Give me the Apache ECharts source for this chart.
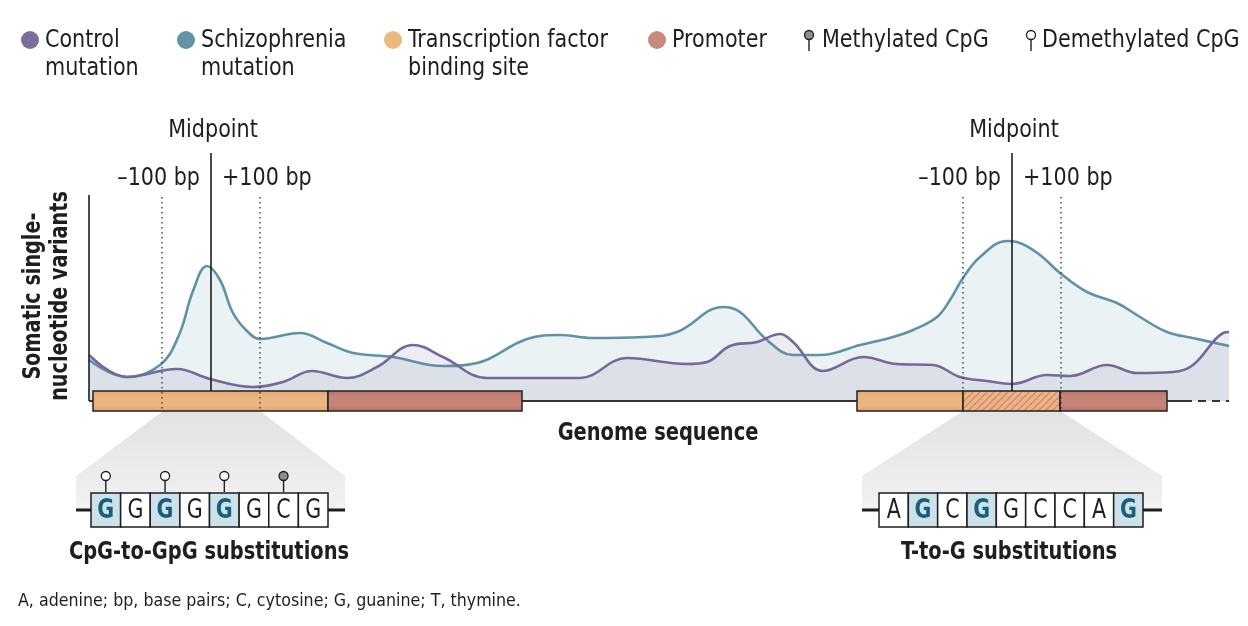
<!DOCTYPE html>
<html><head><meta charset="utf-8">
<script src="https://cdn.jsdelivr.net/npm/echarts@6/dist/echarts.min.js"></script>
<style>html,body{margin:0;padding:0;background:#fff}#c{width:1248px;height:626px}</style>
</head><body><div id="c"></div>
<script>
// ---- data (genome position units, relative variant density) ----
const schizoPos = [0,38,71,90,104,118,131,144,158,171,211,238,264,304,354,388,438,471,504,554,588,634,651,678,704,731,771,804,824,848,861,874,891,918,928,951,971,998,1028,1051,1078,1104,1140];
const schizoVal = [20.5,12,18,33,55,67.5,60.5,44,35,31,34,29,24,22,17.5,19,31,33,31.5,32,34.5,47,44.5,30.5,23,23,28,32,35.5,42,50.5,61.5,72,80,79.5,73,64,54.5,49,42,34.5,31.5,27.5];
const controlPos = [0,38,88,121,164,194,223,258,288,324,354,398,471,491,538,598,618,641,668,691,704,734,774,808,844,871,898,923,958,981,1018,1048,1084,1104,1134,1140];
const controlVal = [23,12,16,11,7,9.5,15,11.5,17,28,22,11.5,11.5,11.5,21.5,18.5,19.5,27.5,29.5,33.5,29.5,15,22,18.5,18,12,10,8.5,13,12.5,18,14,14.5,18,34,34.5];
// regions: kind 0 = TF binding site, 1 = promoter, 2 = TF site within ±100 bp
const regionStart = [4,239,768,874,971];
const regionEnd   = [239,433,874,971,1078];
const regionKind  = [0,1,0,2,1];
const midpoints = [122, 923];
const flank = 49;
const axisTop = 103, axisEnd = 1140, solidEnd = 1095;
const midLabel = 'Midpoint', minusLabel = '\u2013100 bp', plusLabel = '+100 bp';
const seqLeft = ['G','G','G','G','G','G','C','G'];
const hiLeft = [0,2,4];
const pinsLeft = [[0,0],[2,0],[4,0],[6,1]]; // [index, methylated]
const seqRight = ['A','G','C','G','G','C','C','A','G'];
const hiRight = [1,3,8];

const F = "'Liberation Sans Narrow','DejaVu Sans Condensed',sans-serif";
const C = {control:'#75699b', schizo:'#5e93a7', ink:'#1e1e1e'};
const SX = 0.92, SXB = 0.9;

function vgrad(edge, mid){
  return new echarts.graphic.LinearGradient(0,0,0,1,[{offset:0,color:edge},{offset:0.3,color:mid},{offset:0.7,color:mid},{offset:1,color:edge}]);
}
const tfFill = vgrad('#e2a46c', '#ebb580');
const prFill = vgrad('#b97064', '#c68478');

// hatch pattern
const pc = document.createElement('canvas'); pc.width = 7; pc.height = 7;
const g = pc.getContext('2d');
g.fillStyle = '#ebb581'; g.fillRect(0,0,7,7);
g.strokeStyle = '#cd8878'; g.lineWidth = 1.4;
g.beginPath(); g.moveTo(-1,8); g.lineTo(8,-1); g.moveTo(-4.5,4.5); g.lineTo(4.5,-4.5); g.moveTo(2.5,11.5); g.lineTo(11.5,2.5); g.stroke();
const hatch = {image: pc, repeat: 'repeat'};

const chart = echarts.init(document.getElementById('c'), null, {renderer:'canvas'});

const graphics = [];
function T(x, y, text, size, bold, align, extra){
  return Object.assign({type:'text', x:x, y:y, scaleX: bold?SXB:SX,
    style:{text:text, font:(bold?'bold ':'')+size+'px '+F, fill:C.ink, textAlign:align||'left', textVerticalAlign:'middle', lineHeight:28}}, extra||{});
}
// legend
const legendItems = [
  {x:30, c:'#7b6fa0', t:'Control\nmutation'},
  {x:186, c:'#6492a6', t:'Schizophrenia\nmutation'},
  {x:393, c:'#ebb982', t:'Transcription factor\nbinding site'},
  {x:657, c:'#c98a7e', t:'Promoter'}
];
legendItems.forEach(it=>{
  graphics.push({type:'circle', shape:{cx:it.x, cy:40, r:9}, style:{fill:it.c}});
  const e = T(it.x+15, 26, it.t, 25, false, 'left'); e.style.textVerticalAlign = 'top';
  graphics.push(e);
});
function pin(x, cy, methylated){
  return [
    {type:'line', shape:{x1:x, y1:cy+4.5, x2:x, y2:cy+16}, style:{stroke:C.ink, lineWidth:1.4}},
    {type:'circle', shape:{cx:x, cy:cy, r:4.5}, style:{fill:methylated?'#8d8d8d':'#fff', stroke:C.ink, lineWidth:1.3}}
  ];
}
graphics.push(...pin(809, 35, true));
let e1 = T(822, 26, 'Methylated CpG', 25, false, 'left'); e1.style.textVerticalAlign='top'; graphics.push(e1);
graphics.push(...pin(1031, 35, false));
let e2 = T(1042, 26, 'Demethylated CpG', 25, false, 'left'); e2.style.textVerticalAlign='top'; graphics.push(e2);
// axis titles
graphics.push({type:'text', x:47, y:296, rotation:Math.PI/2, scaleX:0.89, style:{text:'Somatic single-\nnucleotide variants', font:'bold 24px '+F, fill:C.ink, lineHeight:27, textAlign:'center', textVerticalAlign:'middle'}});
graphics.push(T(658, 434, 'Genome sequence', 24, true, 'center'));
// zoom trapezoids
const grad = new echarts.graphic.LinearGradient(0,0,0,1,[{offset:0,color:'#e2e2e2'},{offset:1,color:'#f2f2f2'}]);
graphics.push({type:'polygon', shape:{points:[[163,411],[260,411],[345,476],[345,511],[76,511],[76,476]]}, style:{fill:grad}});
graphics.push({type:'polygon', shape:{points:[[963,411],[1060,411],[1162,476],[1162,511],[862,511],[862,476]]}, style:{fill:grad}});
// sequences
function seq(x0, x1, letters, hi, lineL, lineR){
  const w = (x1-x0)/letters.length;
  graphics.push({type:'line', shape:{x1:lineL, y1:510, x2:x0, y2:510}, style:{stroke:C.ink, lineWidth:3}});
  graphics.push({type:'line', shape:{x1:x1, y1:510, x2:lineR, y2:510}, style:{stroke:C.ink, lineWidth:3}});
  letters.forEach((L,i)=>{
    const h = hi.indexOf(i)>=0;
    graphics.push({type:'rect', shape:{x:x0+i*w, y:493, width:w, height:34}, style:{fill:h?'#cde1e8':'#fff', stroke:C.ink, lineWidth:1.5}});
    const t = T(x0+i*w+w/2, 511, L, 26, h, 'center');
    t.scaleX = 0.88;
    if (h) t.style.fill = '#175f7c';
    graphics.push(t);
  });
  return w;
}
const wl = seq(91, 328, seqLeft, hiLeft, 76, 345);
pinsLeft.forEach(p=>{ graphics.push(...pin(91+p[0]*wl+wl/2, 476, p[1]===1)); });
seq(879, 1143, seqRight, hiRight, 862, 1162);
graphics.push(T(209, 553, 'CpG-to-GpG substitutions', 24, true, 'center'));
graphics.push(T(1009, 553, 'T-to-G substitutions', 24, true, 'center'));
const fn = T(18, 601, 'A, adenine; bp, base pairs; C, cytosine; G, guanine; T, thymine.', 18, false, 'left'); fn.scaleX = 0.98;
graphics.push(fn);

const option = {
  animation:false,
  grid:{left:89, right:19, top:149, height:262},
  xAxis:{type:'value', min:0, max:1140, show:false},
  yAxis:{type:'value', min:-5, max:126, show:false},
  graphic: graphics,
  series:[
    {type:'line', name:'Schizophrenia mutation', data:schizoPos.map((x,i)=>[x,schizoVal[i]]), smooth:0.4, symbol:'none',
     lineStyle:{color:C.schizo, width:2.6}, areaStyle:{color:'rgba(96,148,168,0.18)', origin:0}, z:2},
    {type:'line', name:'Control mutation', data:controlPos.map((x,i)=>[x,controlVal[i]]), smooth:0.4, symbol:'none',
     lineStyle:{color:C.control, width:2.6}, areaStyle:{color:'rgba(118,105,155,0.18)', origin:0}, z:3},
    {type:'custom', name:'axes', data:[[0]], z:4, silent:true,
     renderItem(params, api){
       const o = api.coord([0,0]), t = api.coord([0,axisTop]), s = api.coord([solidEnd,0]), e = api.coord([axisEnd,0]);
       return {type:'group', children:[
         {type:'line', shape:{x1:o[0], y1:t[1], x2:o[0], y2:o[1]}, style:{stroke:C.ink, lineWidth:1.6}},
         {type:'line', shape:{x1:o[0], y1:o[1], x2:s[0], y2:s[1]}, style:{stroke:'#333', lineWidth:2}},
         {type:'line', shape:{x1:s[0], y1:s[1], x2:e[0], y2:e[1]}, style:{stroke:'#333', lineWidth:2, lineDash:[8,6]}}
       ]};
     }},
    {type:'custom', name:'regions', z:5, silent:true,
     data:regionStart.map((s,i)=>[s, regionEnd[i], regionKind[i]]),
     encode:{x:[0,1]},
     renderItem(params, api){
       const a = api.coord([api.value(0), 5]), b = api.coord([api.value(1), -5]);
       const k = api.value(2);
       return {type:'rect', shape:{x:a[0], y:a[1], width:b[0]-a[0], height:b[1]-a[1]},
         style:{fill: k===0?tfFill:(k===1?prFill:hatch), stroke:'#222', lineWidth:1.5}};
     }},
    {type:'custom', name:'midpoints', z:6, silent:true,
     data:midpoints.map(m=>[m]), encode:{x:0},
     renderItem(params, api){
       const m = api.value(0);
       const top = api.coord([m, 124]), bot = api.coord([m, 5]);
       const l = api.coord([m-flank, 102]), lb = api.coord([m-flank, -5]);
       const r = api.coord([m+flank, 102]), rb = api.coord([m+flank, -5]);
       const ly = api.coord([m, 111.5])[1], my = api.coord([m, 135.5])[1];
       const f = '25px '+F;
       return {type:'group', children:[
         {type:'line', shape:{x1:top[0], y1:top[1], x2:bot[0], y2:bot[1]}, style:{stroke:C.ink, lineWidth:1.6}},
         {type:'line', shape:{x1:l[0], y1:l[1], x2:lb[0], y2:lb[1]}, style:{stroke:'#333', lineWidth:1.3, lineDash:[1.5,3.5]}},
         {type:'line', shape:{x1:r[0], y1:r[1], x2:rb[0], y2:rb[1]}, style:{stroke:'#333', lineWidth:1.3, lineDash:[1.5,3.5]}},
         {type:'text', x:top[0]+2, y:my, scaleX:SX, style:{text:midLabel, font:f, fill:C.ink, textAlign:'center', textVerticalAlign:'middle'}},
         {type:'text', x:top[0]-11, y:ly, scaleX:SX, style:{text:minusLabel, font:f, fill:C.ink, textAlign:'right', textVerticalAlign:'middle'}},
         {type:'text', x:top[0]+11, y:ly, scaleX:SX, style:{text:plusLabel, font:f, fill:C.ink, textAlign:'left', textVerticalAlign:'middle'}}
       ]};
     }}
  ]
};
chart.setOption(option);
</script></body></html>
